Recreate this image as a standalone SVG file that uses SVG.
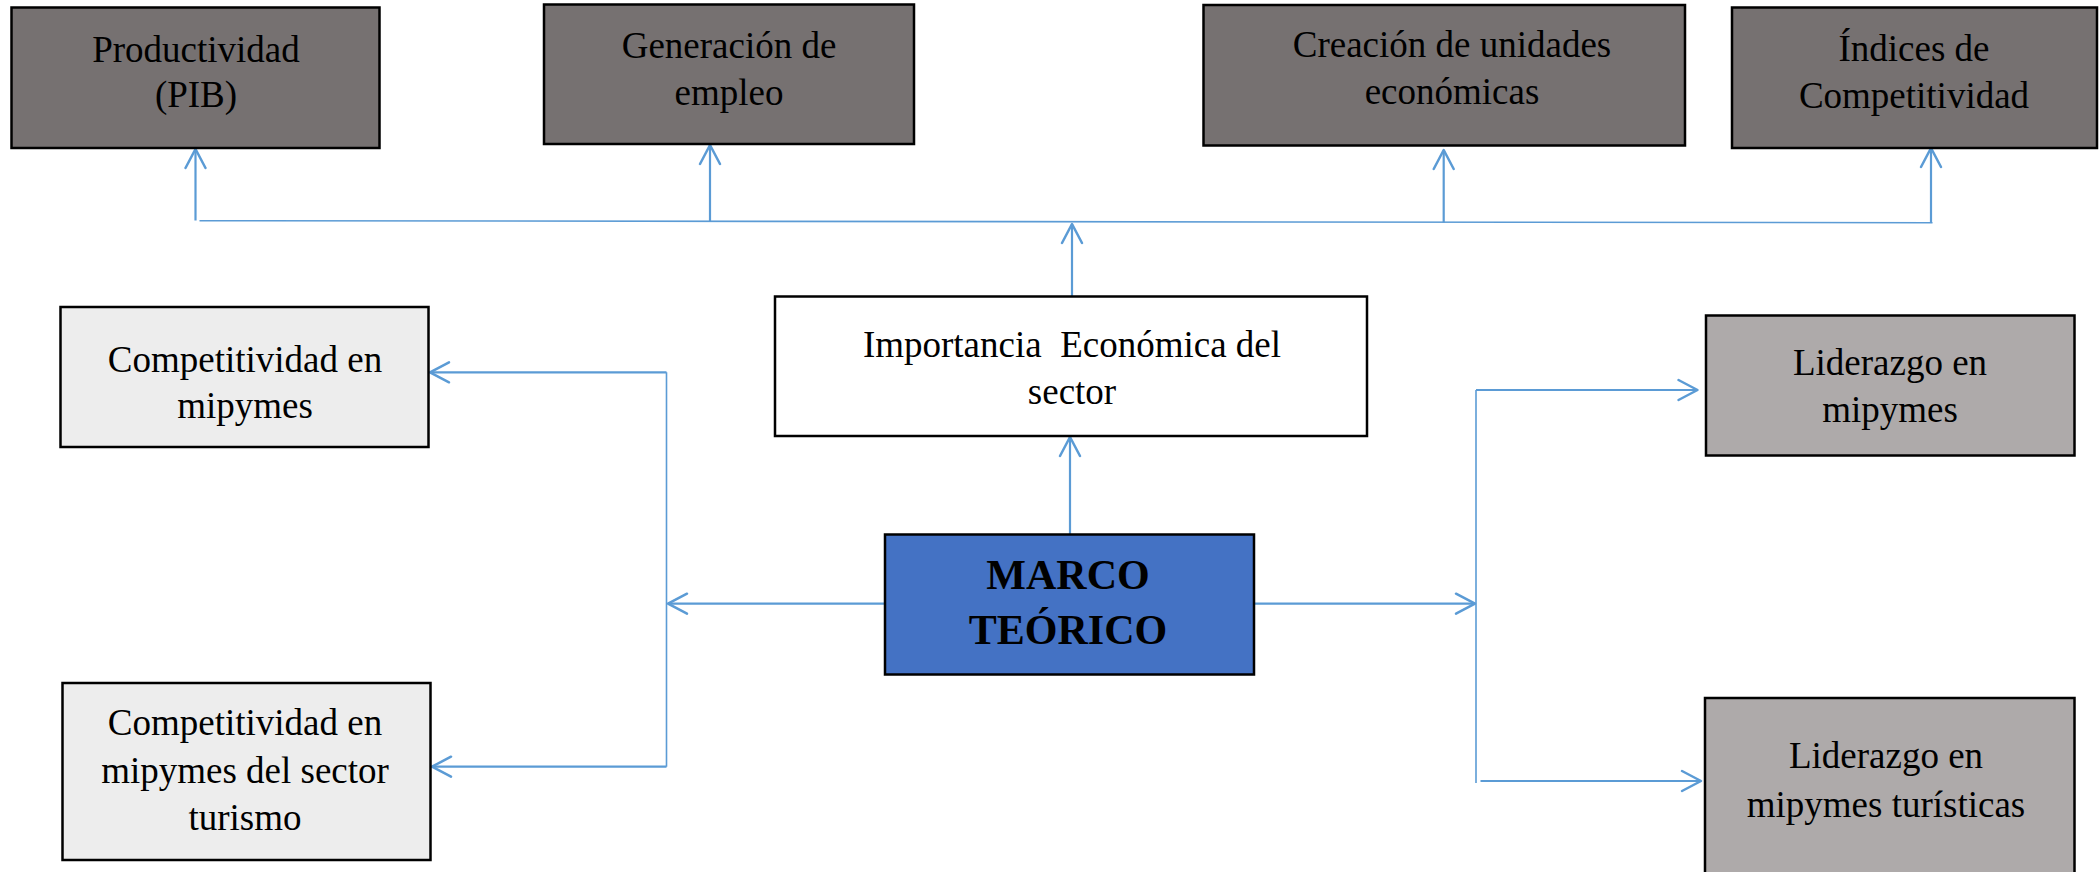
<svg xmlns="http://www.w3.org/2000/svg" width="2099" height="872" viewBox="0 0 2099 872">
<style>
.box{stroke:#000;stroke-width:2.5}
.dark{fill:#767171}
.light{fill:#EDEDED}
.mid{fill:#AEAAAA}
.white{fill:#FFFFFF}
.blue{fill:#4472C4}
.t{font-family:"Liberation Serif","Times New Roman",serif;font-size:37px;fill:#000;text-anchor:middle}
.tb{font-family:"Liberation Serif","Times New Roman",serif;font-size:42px;font-weight:bold;fill:#000;text-anchor:middle}
.ln{fill:none;stroke:#5B9BD5;stroke-width:1.6}
.ar{fill:none;stroke:#5B9BD5;stroke-width:2.2;marker-end:url(#ah)}
</style>
<defs>
<marker id="ah" markerUnits="userSpaceOnUse" viewBox="-22 -12 24 24" markerWidth="24" markerHeight="24" refX="0" refY="0" orient="auto">
<path d="M-19,-10 L0,0 L-19,10" fill="none" stroke="#5B9BD5" stroke-width="2.5" stroke-linejoin="round" stroke-linecap="round"/>
</marker>
</defs>
<rect width="2099" height="872" fill="#FFFFFF"/>

<g id="connectors">
<line class="ln" x1="199.5" y1="220.7" x2="1932.5" y2="222.7"/>
<line class="ar" x1="195.5" y1="220.5" x2="195.5" y2="149"/>
<line class="ar" x1="710" y1="221" x2="710" y2="145"/>
<line class="ar" x1="1443.7" y1="222.5" x2="1443.7" y2="150"/>
<line class="ar" x1="1931" y1="222.5" x2="1931" y2="148"/>
<line class="ar" x1="1072" y1="296" x2="1072" y2="224"/>
<line class="ar" x1="1070" y1="534" x2="1070" y2="437"/>
<line class="ar" x1="885" y1="603.7" x2="668" y2="603.7"/>
<line class="ln" x1="666.5" y1="372.3" x2="666.5" y2="766.7"/>
<line class="ar" x1="666.5" y1="372.3" x2="430" y2="372.3"/>
<line class="ar" x1="666.5" y1="766.7" x2="432" y2="766.7"/>
<line class="ar" x1="1254" y1="603.7" x2="1475" y2="603.7"/>
<line class="ln" x1="1476" y1="390" x2="1476" y2="783"/>
<line class="ar" x1="1476" y1="390" x2="1697.5" y2="390"/>
<line class="ar" x1="1480.5" y1="781" x2="1701" y2="781"/>
</g>

<g id="productividad">
<rect class="box dark" x="11.5" y="7.5" width="368" height="140.5"/>
<text class="t" x="196" y="62">Productividad</text>
<text class="t" x="196" y="107">(PIB)</text>
</g>
<g id="generacion">
<rect class="box dark" x="544" y="4.5" width="370" height="139.5"/>
<text class="t" x="729" y="58">Generación de</text>
<text class="t" x="729" y="105">empleo</text>
</g>
<g id="creacion">
<rect class="box dark" x="1203.5" y="5" width="481.5" height="140.5"/>
<text class="t" x="1452" y="57">Creación de unidades</text>
<text class="t" x="1452" y="104">económicas</text>
</g>
<g id="indices">
<rect class="box dark" x="1732" y="7.5" width="365" height="140.5"/>
<text class="t" x="1914" y="61">Índices de</text>
<text class="t" x="1914" y="108">Competitividad</text>
</g>
<g id="importancia">
<rect class="box white" x="775" y="296.5" width="592" height="139.5"/>
<text class="t" x="1072" y="357" style="white-space:pre">Importancia  Económica del</text>
<text class="t" x="1072" y="404">sector</text>
</g>
<g id="competitividad-mipymes">
<rect class="box light" x="60.5" y="307" width="368" height="140"/>
<text class="t" x="245" y="372">Competitividad en</text>
<text class="t" x="245" y="418">mipymes</text>
</g>
<g id="liderazgo-mipymes">
<rect class="box mid" x="1706" y="315.5" width="368.5" height="140"/>
<text class="t" x="1890" y="375">Liderazgo en</text>
<text class="t" x="1890" y="422">mipymes</text>
</g>
<g id="marco-teorico">
<rect class="box blue" x="885" y="534.5" width="369" height="140"/>
<text class="tb" x="1068" y="589">MARCO</text>
<text class="tb" x="1068" y="644">TEÓRICO</text>
</g>
<g id="competitividad-turismo">
<rect class="box light" x="62.5" y="683" width="368" height="177"/>
<text class="t" x="245" y="735">Competitividad en</text>
<text class="t" x="245" y="783">mipymes del sector</text>
<text class="t" x="245" y="830">turismo</text>
</g>
<g id="liderazgo-turisticas">
<rect class="box mid" x="1705" y="698" width="369.5" height="190"/>
<text class="t" x="1886" y="768">Liderazgo en</text>
<text class="t" x="1886" y="817">mipymes turísticas</text>
</g>
</svg>
